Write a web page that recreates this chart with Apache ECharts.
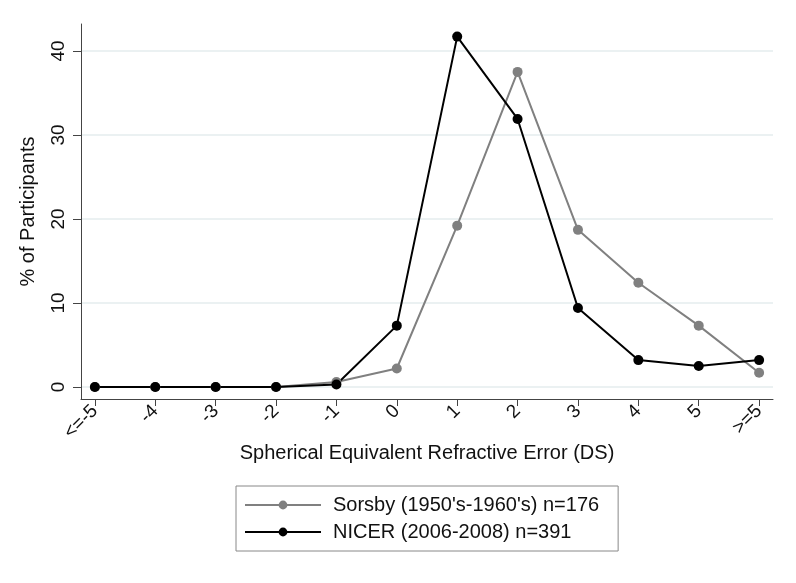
<!DOCTYPE html>
<html>
<head>
<meta charset="utf-8">
<script src="https://cdn.jsdelivr.net/npm/echarts@6/dist/echarts.min.js"></script>
<style>
html,body{margin:0;padding:0;background:#fff;}
#chart{width:796px;height:583px;}
</style>
</head>
<body>
<div id="chart"></div>
<script>
var categories = ['<=-5','-4','-3','-2','-1','0','1','2','3','4','5','>=5'];
var sorsbyValues = [0, 0, 0, 0, 0.6, 2.2, 19.2, 37.5, 18.7, 12.4, 7.3, 1.7];
var nicerValues = [0, 0, 0, 0, 0.3, 7.3, 41.7, 31.9, 9.4, 3.2, 2.5, 3.2];
var yTicks = [0, 10, 20, 30, 40];
var seriesNames = ["Sorsby (1950's-1960's) n=176", "NICER (2006-2008) n=391"];

var xIdx = categories.map(function(c, i){ return i; });
function pairs(vals){ return vals.map(function(v, i){ return [i, v]; }); }

var font = 'Liberation Sans, Arial, sans-serif';
var chart = echarts.init(document.getElementById('chart'), null, {renderer:'canvas'});
chart.setOption({
  animation: false,
  backgroundColor: '#ffffff',
  grid: {left: 81, right: 23, top: 24, bottom: 184, containLabel: false},
  xAxis: {
    type: 'value', min: -0.23, max: 11.23,
    name: 'Spherical Equivalent Refractive Error (DS)',
    nameLocation: 'middle', nameGap: 44, nameMoveOverlap: false,
    nameTextStyle: {fontFamily: font, fontSize: 20, color: '#111'},
    axisLine: {show: true, onZero: false, lineStyle: {color: '#444', width: 1}},
    axisTick: {show: true, length: 7, customValues: xIdx, lineStyle: {color: '#444'}},
    axisLabel: {customValues: xIdx, rotate: 45, margin: 9, fontFamily: font, fontSize: 19, color: '#111',
      formatter: function(v){ return categories[Math.round(v)]; }},
    splitLine: {show: false}
  },
  yAxis: {
    type: 'value', min: -1.43, max: 43.2,
    name: '% of Participants',
    nameLocation: 'middle', nameGap: 43, nameRotate: 90, nameMoveOverlap: false,
    nameTextStyle: {fontFamily: font, fontSize: 20, color: '#111'},
    axisLine: {show: true, onZero: false, lineStyle: {color: '#444', width: 1}},
    axisTick: {show: true, length: 8, customValues: yTicks, lineStyle: {color: '#444'}},
    axisLabel: {customValues: yTicks, rotate: 90, margin: 13, fontFamily: font, fontSize: 19, color: '#111'},
    splitLine: {show: true, lineStyle: {color: '#e4ecee', width: 1.5}}
  },
  legend: {
    orient: 'vertical', left: 236, top: 486,
    padding: [9, 19, 9, 8],
    borderColor: '#888', borderWidth: 1,
    itemWidth: 76, itemHeight: 11, itemGap: 7,
    textStyle: {fontFamily: font, fontSize: 20, color: '#111', lineHeight: 20, padding: [0,0,0,7]},
    data: seriesNames
  },
  series: [
    {name: seriesNames[0], type: 'line', data: pairs(sorsbyValues),
     symbol: 'circle', symbolSize: 10, showAllSymbol: true,
     lineStyle: {color: '#808080', width: 2}, itemStyle: {color: '#808080'}},
    {name: seriesNames[1], type: 'line', data: pairs(nicerValues),
     symbol: 'circle', symbolSize: 10, showAllSymbol: true,
     lineStyle: {color: '#000000', width: 2}, itemStyle: {color: '#000000'}}
  ]
});
</script>
</body>
</html>
